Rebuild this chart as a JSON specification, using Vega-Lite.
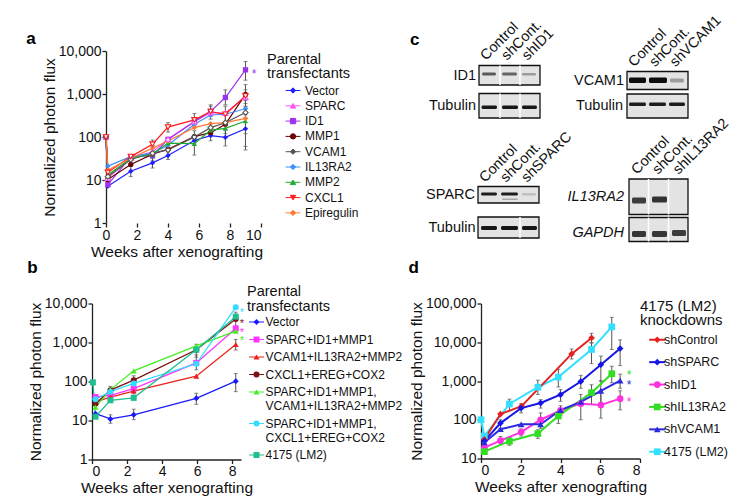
{
  "$schema": "https://vega.github.io/schema/vega-lite/v6.json",
  "background": "white",
  "padding": {"left": 26, "top": 12, "right": 0, "bottom": 0},
  "columns": 2,
  "align": "each",
  "spacing": {"row": -1.5, "column": 5},
  "resolve": {"scale": {"color": "independent", "shape": "independent", "stroke": "independent"}, "legend": {"color": "independent", "shape": "independent", "stroke": "independent"}},
  "datasets": {
    "a": [
      {"series": "Vector", "week": 0, "value": 100},
      {"series": "Vector", "week": 0.12, "value": 7.2},
      {"series": "Vector", "week": 1.6, "value": 16, "lo": 12, "hi": 21},
      {"series": "Vector", "week": 3.0, "value": 25, "lo": 19, "hi": 32},
      {"series": "Vector", "week": 4.0, "value": 37, "lo": 30, "hi": 45},
      {"series": "Vector", "week": 5.7, "value": 83},
      {"series": "Vector", "week": 6.75, "value": 108, "lo": 82, "hi": 130},
      {"series": "Vector", "week": 7.7, "value": 98, "lo": 62, "hi": 150},
      {"series": "Vector", "week": 9.0, "value": 155, "lo": 50, "hi": 330},
      {"series": "SPARC", "week": 0, "value": 100},
      {"series": "SPARC", "week": 0.12, "value": 11},
      {"series": "SPARC", "week": 1.6, "value": 33},
      {"series": "SPARC", "week": 3.0, "value": 45, "lo": 33, "hi": 62},
      {"series": "SPARC", "week": 4.0, "value": 90},
      {"series": "SPARC", "week": 5.7, "value": 230},
      {"series": "SPARC", "week": 6.75, "value": 370},
      {"series": "SPARC", "week": 7.7, "value": 360},
      {"series": "SPARC", "week": 9.0, "value": 850, "lo": 520, "hi": 1250},
      {"series": "ID1", "week": 0, "value": 100},
      {"series": "ID1", "week": 0.12, "value": 7.8},
      {"series": "ID1", "week": 1.6, "value": 35},
      {"series": "ID1", "week": 3.0, "value": 37},
      {"series": "ID1", "week": 4.0, "value": 88},
      {"series": "ID1", "week": 5.7, "value": 225},
      {"series": "ID1", "week": 6.75, "value": 395, "lo": 300, "hi": 560},
      {"series": "ID1", "week": 7.7, "value": 830, "lo": 560, "hi": 1250},
      {"series": "ID1", "week": 9.0, "value": 3650, "lo": 2100, "hi": 5700},
      {"series": "MMP1", "week": 0, "value": 100},
      {"series": "MMP1", "week": 0.12, "value": 10.3},
      {"series": "MMP1", "week": 1.6, "value": 23},
      {"series": "MMP1", "week": 3.0, "value": 40},
      {"series": "MMP1", "week": 4.0, "value": 52},
      {"series": "MMP1", "week": 5.7, "value": 102, "lo": 70, "hi": 140},
      {"series": "MMP1", "week": 6.75, "value": 126},
      {"series": "MMP1", "week": 7.7, "value": 198},
      {"series": "MMP1", "week": 9.0, "value": 980, "lo": 600, "hi": 1650},
      {"series": "VCAM1", "week": 0, "value": 100},
      {"series": "VCAM1", "week": 0.12, "value": 12},
      {"series": "VCAM1", "week": 1.6, "value": 30},
      {"series": "VCAM1", "week": 3.0, "value": 42, "lo": 28, "hi": 62},
      {"series": "VCAM1", "week": 4.0, "value": 50},
      {"series": "VCAM1", "week": 5.7, "value": 100},
      {"series": "VCAM1", "week": 6.75, "value": 165},
      {"series": "VCAM1", "week": 7.7, "value": 215},
      {"series": "VCAM1", "week": 9.0, "value": 370, "lo": 60, "hi": 1000},
      {"series": "IL13RA2", "week": 0, "value": 100},
      {"series": "IL13RA2", "week": 0.12, "value": 21},
      {"series": "IL13RA2", "week": 1.6, "value": 35},
      {"series": "IL13RA2", "week": 3.0, "value": 42},
      {"series": "IL13RA2", "week": 4.0, "value": 64},
      {"series": "IL13RA2", "week": 5.7, "value": 198},
      {"series": "IL13RA2", "week": 6.75, "value": 325},
      {"series": "IL13RA2", "week": 7.7, "value": 338, "lo": 230, "hi": 520},
      {"series": "IL13RA2", "week": 9.0, "value": 455, "lo": 280, "hi": 700},
      {"series": "MMP2", "week": 0, "value": 100},
      {"series": "MMP2", "week": 0.12, "value": 13},
      {"series": "MMP2", "week": 1.6, "value": 32},
      {"series": "MMP2", "week": 3.0, "value": 40},
      {"series": "MMP2", "week": 4.0, "value": 72},
      {"series": "MMP2", "week": 5.7, "value": 70, "lo": 38, "hi": 110},
      {"series": "MMP2", "week": 6.75, "value": 144},
      {"series": "MMP2", "week": 7.7, "value": 159},
      {"series": "MMP2", "week": 9.0, "value": 235, "lo": 120, "hi": 500},
      {"series": "CXCL1", "week": 0, "value": 100},
      {"series": "CXCL1", "week": 0.12, "value": 15},
      {"series": "CXCL1", "week": 1.6, "value": 35},
      {"series": "CXCL1", "week": 3.0, "value": 68, "lo": 45, "hi": 85},
      {"series": "CXCL1", "week": 4.0, "value": 170, "lo": 130, "hi": 215},
      {"series": "CXCL1", "week": 5.7, "value": 250, "lo": 180, "hi": 350},
      {"series": "CXCL1", "week": 6.75, "value": 390, "lo": 260, "hi": 520},
      {"series": "CXCL1", "week": 7.7, "value": 338},
      {"series": "CXCL1", "week": 9.0, "value": 900},
      {"series": "Epiregulin", "week": 0, "value": 100},
      {"series": "Epiregulin", "week": 0.12, "value": 17},
      {"series": "Epiregulin", "week": 1.6, "value": 32},
      {"series": "Epiregulin", "week": 3.0, "value": 55},
      {"series": "Epiregulin", "week": 4.0, "value": 81},
      {"series": "Epiregulin", "week": 5.7, "value": 165},
      {"series": "Epiregulin", "week": 6.75, "value": 204},
      {"series": "Epiregulin", "week": 7.7, "value": 215, "lo": 120, "hi": 330},
      {"series": "Epiregulin", "week": 9.0, "value": 270}
    ],
    "aStar": [
      {"series": "ID1", "week": 9.55, "value": 3650, "sig": "*"}
    ],
    "b": [
      {"series": "Vector", "week": 0.2, "value": 15},
      {"series": "Vector", "week": 1.05, "value": 11, "lo": 8.5, "hi": 14},
      {"series": "Vector", "week": 2.38, "value": 14, "lo": 10.5, "hi": 19.5},
      {"series": "Vector", "week": 5.95, "value": 37, "lo": 26, "hi": 50},
      {"series": "Vector", "week": 8.2, "value": 102, "lo": 55, "hi": 160},
      {"series": "SPARC+ID1+MMP1", "week": 0.2, "value": 40},
      {"series": "SPARC+ID1+MMP1", "week": 1.05, "value": 44},
      {"series": "SPARC+ID1+MMP1", "week": 2.38, "value": 66},
      {"series": "SPARC+ID1+MMP1", "week": 5.95, "value": 300, "lo": 200, "hi": 480},
      {"series": "SPARC+ID1+MMP1", "week": 8.2, "value": 2300},
      {"series": "VCAM1+IL13RA2+MMP2", "week": 0.2, "value": 30},
      {"series": "VCAM1+IL13RA2+MMP2", "week": 1.05, "value": 40},
      {"series": "VCAM1+IL13RA2+MMP2", "week": 2.38, "value": 57, "lo": 48, "hi": 70},
      {"series": "VCAM1+IL13RA2+MMP2", "week": 5.95, "value": 137},
      {"series": "VCAM1+IL13RA2+MMP2", "week": 8.2, "value": 890, "lo": 640, "hi": 1200},
      {"series": "CXCL1+EREG+COX2", "week": 0.2, "value": 27},
      {"series": "CXCL1+EREG+COX2", "week": 1.05, "value": 60, "lo": 45, "hi": 75},
      {"series": "CXCL1+EREG+COX2", "week": 2.38, "value": 108, "lo": 85, "hi": 140},
      {"series": "CXCL1+EREG+COX2", "week": 5.95, "value": 650},
      {"series": "CXCL1+EREG+COX2", "week": 8.2, "value": 4000, "lo": 2600, "hi": 6000},
      {"series": "SPARC+ID1+MMP1, VCAM1+IL13RA2+MMP2", "week": 0.2, "value": 22},
      {"series": "SPARC+ID1+MMP1, VCAM1+IL13RA2+MMP2", "week": 1.05, "value": 62},
      {"series": "SPARC+ID1+MMP1, VCAM1+IL13RA2+MMP2", "week": 2.38, "value": 188},
      {"series": "SPARC+ID1+MMP1, VCAM1+IL13RA2+MMP2", "week": 5.95, "value": 820},
      {"series": "SPARC+ID1+MMP1, VCAM1+IL13RA2+MMP2", "week": 8.2, "value": 1950},
      {"series": "SPARC+ID1+MMP1, CXCL1+EREG+COX2", "week": 0.2, "value": 35},
      {"series": "SPARC+ID1+MMP1, CXCL1+EREG+COX2", "week": 1.05, "value": 55},
      {"series": "SPARC+ID1+MMP1, CXCL1+EREG+COX2", "week": 2.38, "value": 89},
      {"series": "SPARC+ID1+MMP1, CXCL1+EREG+COX2", "week": 5.95, "value": 285},
      {"series": "SPARC+ID1+MMP1, CXCL1+EREG+COX2", "week": 8.2, "value": 8000},
      {"series": "4175 (LM2)", "week": 0.05, "value": 95},
      {"series": "4175 (LM2)", "week": 0.2, "value": 12.5},
      {"series": "4175 (LM2)", "week": 1.05, "value": 33},
      {"series": "4175 (LM2)", "week": 2.38, "value": 38},
      {"series": "4175 (LM2)", "week": 5.95, "value": 650, "lo": 420, "hi": 900},
      {"series": "4175 (LM2)", "week": 8.2, "value": 4600}
    ],
    "bStar": [
      {"series": "SPARC+ID1+MMP1, CXCL1+EREG+COX2", "week": 8.55, "value": 7400, "sig": "*"},
      {"series": "CXCL1+EREG+COX2", "week": 8.55, "value": 3700, "sig": "*"},
      {"series": "SPARC+ID1+MMP1", "week": 8.55, "value": 2200, "sig": "*"},
      {"series": "SPARC+ID1+MMP1, VCAM1+IL13RA2+MMP2", "week": 8.55, "value": 1400, "sig": "*"}
    ],
    "d": [
      {"series": "4175 (LM2)", "week": 0, "value": 100},
      {"series": "4175 (LM2)", "week": 0.17, "value": 38},
      {"series": "4175 (LM2)", "week": 1.43, "value": 255, "lo": 170, "hi": 340},
      {"series": "4175 (LM2)", "week": 2.86, "value": 690, "lo": 450, "hi": 1050},
      {"series": "4175 (LM2)", "week": 3.89, "value": 1260, "lo": 700, "hi": 2000},
      {"series": "4175 (LM2)", "week": 5.56, "value": 6500, "lo": 2800, "hi": 9500},
      {"series": "4175 (LM2)", "week": 6.58, "value": 25000, "lo": 6500, "hi": 44000},
      {"series": "shControl", "week": 0.17, "value": 31},
      {"series": "shControl", "week": 0.98, "value": 140},
      {"series": "shControl", "week": 2.04, "value": 225},
      {"series": "shControl", "week": 4.56, "value": 5000, "lo": 3700, "hi": 6700},
      {"series": "shControl", "week": 5.56, "value": 12900, "lo": 9800, "hi": 17000},
      {"series": "shSPARC", "week": 0.17, "value": 28},
      {"series": "shSPARC", "week": 0.98, "value": 82, "lo": 60, "hi": 100},
      {"series": "shSPARC", "week": 2.02, "value": 200, "lo": 150, "hi": 260},
      {"series": "shSPARC", "week": 3.0, "value": 270, "lo": 200, "hi": 330},
      {"series": "shSPARC", "week": 4.0, "value": 445, "lo": 300, "hi": 600},
      {"series": "shSPARC", "week": 5.02, "value": 970, "lo": 650, "hi": 1400},
      {"series": "shSPARC", "week": 6.03, "value": 2640, "lo": 1000, "hi": 4400},
      {"series": "shSPARC", "week": 7.0, "value": 6900, "lo": 2500, "hi": 11500},
      {"series": "shID1", "week": 0.17, "value": 19},
      {"series": "shID1", "week": 0.98, "value": 29, "lo": 24, "hi": 37},
      {"series": "shID1", "week": 2.02, "value": 48, "lo": 38, "hi": 58},
      {"series": "shID1", "week": 3.0, "value": 100, "lo": 60, "hi": 150},
      {"series": "shID1", "week": 4.0, "value": 175, "lo": 130, "hi": 230},
      {"series": "shID1", "week": 5.02, "value": 260, "lo": 100, "hi": 450},
      {"series": "shID1", "week": 6.03, "value": 240, "lo": 110, "hi": 560},
      {"series": "shID1", "week": 7.0, "value": 350, "lo": 180, "hi": 560},
      {"series": "shIL13RA2", "week": 0.17, "value": 15},
      {"series": "shIL13RA2", "week": 1.43, "value": 28, "lo": 22, "hi": 35},
      {"series": "shIL13RA2", "week": 2.86, "value": 44, "lo": 33, "hi": 55},
      {"series": "shIL13RA2", "week": 3.89, "value": 125, "lo": 80, "hi": 160},
      {"series": "shIL13RA2", "week": 5.56, "value": 500, "lo": 250, "hi": 800},
      {"series": "shIL13RA2", "week": 6.58, "value": 1540, "lo": 900, "hi": 2400},
      {"series": "shVCAM1", "week": 0.17, "value": 26},
      {"series": "shVCAM1", "week": 0.98, "value": 57},
      {"series": "shVCAM1", "week": 2.02, "value": 76},
      {"series": "shVCAM1", "week": 3.0, "value": 76},
      {"series": "shVCAM1", "week": 4.0, "value": 178},
      {"series": "shVCAM1", "week": 5.02, "value": 290},
      {"series": "shVCAM1", "week": 6.03, "value": 560, "lo": 280, "hi": 1000},
      {"series": "shVCAM1", "week": 7.0, "value": 1020, "lo": 650, "hi": 1500}
    ],
    "dStar": [
      {"series": "shIL13RA2", "week": 7.45, "value": 1780, "sig": "*"},
      {"series": "shVCAM1", "week": 7.45, "value": 1020, "sig": "*"},
      {"series": "shID1", "week": 7.45, "value": 370, "sig": "*"}
    ],
    "cBoxes": [
      {"probe": "ID1", "x1": 487, "x2": 548, "y1": 64.5, "y2": 84},
      {"probe": "Tubulin", "x1": 487, "x2": 548, "y1": 92.5, "y2": 117},
      {"probe": "VCAM1", "x1": 635, "x2": 696, "y1": 70.5, "y2": 88.5},
      {"probe": "Tubulin", "x1": 635, "x2": 696, "y1": 93, "y2": 117},
      {"probe": "SPARC", "x1": 486, "x2": 547, "y1": 185.5, "y2": 202},
      {"probe": "Tubulin", "x1": 486, "x2": 547, "y1": 216, "y2": 237},
      {"probe": "IL13RA2", "x1": 637, "x2": 696, "y1": 178, "y2": 213.5},
      {"probe": "GAPDH", "x1": 637, "x2": 696, "y1": 216.5, "y2": 240.5}
    ],
    "cBands": [
      {"x1": 490, "x2": 504, "y1": 71.5, "y2": 74.5, "level": 0.6},
      {"x1": 510, "x2": 525, "y1": 71.5, "y2": 74.5, "level": 0.55},
      {"x1": 530, "x2": 544, "y1": 72, "y2": 74.5, "level": 0.3},
      {"x1": 489.5, "x2": 505, "y1": 104.5, "y2": 108, "level": 0.95},
      {"x1": 510, "x2": 526, "y1": 104.5, "y2": 108, "level": 0.95},
      {"x1": 530, "x2": 545, "y1": 104.5, "y2": 108, "level": 0.95},
      {"x1": 637, "x2": 654, "y1": 76.5, "y2": 82, "level": 1},
      {"x1": 657, "x2": 675, "y1": 76.5, "y2": 82, "level": 1},
      {"x1": 678, "x2": 692, "y1": 77.5, "y2": 81.5, "level": 0.3},
      {"x1": 637, "x2": 654, "y1": 101.5, "y2": 105, "level": 0.92},
      {"x1": 657, "x2": 674, "y1": 101.5, "y2": 105, "level": 0.92},
      {"x1": 677, "x2": 693, "y1": 101.5, "y2": 105, "level": 0.92},
      {"x1": 489, "x2": 505, "y1": 191.5, "y2": 194.5, "level": 0.92},
      {"x1": 509, "x2": 526, "y1": 191.5, "y2": 194.5, "level": 0.92},
      {"x1": 530, "x2": 544, "y1": 192, "y2": 194.5, "level": 0.15},
      {"x1": 510, "x2": 526, "y1": 197.5, "y2": 199, "level": 0.25},
      {"x1": 489, "x2": 505, "y1": 225, "y2": 229, "level": 0.95},
      {"x1": 509, "x2": 526, "y1": 225, "y2": 229, "level": 0.95},
      {"x1": 530, "x2": 545, "y1": 225, "y2": 229, "level": 0.95},
      {"x1": 640, "x2": 654, "y1": 196.5, "y2": 202.5, "level": 0.75},
      {"x1": 660, "x2": 675, "y1": 195.5, "y2": 201.5, "level": 0.8},
      {"x1": 640, "x2": 654, "y1": 230, "y2": 236, "level": 0.78},
      {"x1": 660, "x2": 675, "y1": 230, "y2": 236, "level": 0.78},
      {"x1": 680, "x2": 694, "y1": 229, "y2": 235, "level": 0.75}
    ],
    "cSeps": [
      {"x": 508, "y1": 64.5, "y2": 84},
      {"x": 528, "y1": 64.5, "y2": 84},
      {"x": 508, "y1": 92.5, "y2": 117},
      {"x": 528, "y1": 92.5, "y2": 117},
      {"x": 528, "y1": 216, "y2": 237},
      {"x": 656.5, "y1": 178, "y2": 213.5},
      {"x": 676.5, "y1": 178, "y2": 213.5},
      {"x": 656.5, "y1": 216.5, "y2": 240.5},
      {"x": 676.5, "y1": 216.5, "y2": 240.5}
    ],
    "cRowLabels": [
      {"label": "ID1", "assay": "protein", "x": 484, "y": 74.5},
      {"label": "Tubulin", "assay": "protein", "x": 484, "y": 105},
      {"label": "VCAM1", "assay": "protein", "x": 632, "y": 79.5},
      {"label": "Tubulin", "assay": "protein", "x": 631, "y": 105},
      {"label": "SPARC", "assay": "protein", "x": 483, "y": 193.5},
      {"label": "Tubulin", "assay": "protein", "x": 483.5, "y": 226.5},
      {"label": "IL13RA2", "assay": "mRNA", "x": 632, "y": 196},
      {"label": "GAPDH", "assay": "mRNA", "x": 632, "y": 232}
    ],
    "cColLabels": [
      {"label": "Control", "x": 494, "y": 60},
      {"label": "shCont.", "x": 515, "y": 60},
      {"label": "shID1", "x": 535.5, "y": 60},
      {"label": "Control", "x": 642, "y": 66.5},
      {"label": "shCont.", "x": 663, "y": 66.5},
      {"label": "shVCAM1", "x": 683.5, "y": 66.5},
      {"label": "Control", "x": 493, "y": 182},
      {"label": "shCont.", "x": 514, "y": 182},
      {"label": "shSPARC", "x": 535, "y": 182},
      {"label": "Control", "x": 645, "y": 174},
      {"label": "shCont.", "x": 666, "y": 174},
      {"label": "shIL13RA2", "x": 686.5, "y": 174}
    ],
    "cLetter": [
      {"label": "c", "x": 418, "y": 44}
    ]
  },
  "concat": [
    {
      "width": 169,
      "height": 172,
      "title": {"text": "a", "frame": "bounds", "dx": -16, "offset": -4},
      "encoding": {
        "x": {"field": "week", "type": "quantitative", "title": "Weeks after xenografting", "scale": {"domain": [-0.903, 10], "nice": false, "zero": false}, "axis": {"values": [0, 2, 4, 6, 8, 10], "domain": false}},
        "y": {"field": "value", "type": "quantitative", "title": "Normalized photon flux", "scale": {"type": "log", "domain": [1, 10000], "nice": false}, "axis": {"values": [1, 10, 100, 1000, 10000], "format": ",", "offset": -14}}
      },
      "layer": [
        {
          "data": {"values": [{}]},
          "mark": {"type": "rule", "color": "#222", "strokeWidth": 1.3},
          "encoding": {
            "x": {"datum": 0, "type": "quantitative", "title": "Weeks after xenografting", "axis": {"values": [0, 2, 4, 6, 8, 10], "domain": false}},
            "x2": {"datum": 10},
            "y": {"datum": 1, "type": "quantitative", "title": "Normalized photon flux", "axis": {"values": [1, 10, 100, 1000, 10000], "format": ",", "offset": -14}}
          }
        },
        {
          "data": {"name": "a"},
          "transform": [{"filter": "isValid(datum.lo)"}],
          "mark": {"type": "errorbar", "color": "#555", "ticks": {"size": 4}},
          "encoding": {
            "y": {"field": "lo", "type": "quantitative", "title": "Normalized photon flux", "axis": {"values": [1, 10, 100, 1000, 10000], "format": ",", "offset": -14}},
            "y2": {"field": "hi"}
          }
        },
        {
          "data": {"name": "a"},
          "mark": {"type": "line", "strokeWidth": 1.2},
          "encoding": {
            "stroke": {
              "field": "series", "type": "nominal",
              "scale": {"domain": ["Epiregulin", "CXCL1", "MMP2", "IL13RA2", "VCAM1", "MMP1", "ID1", "SPARC", "Vector"], "range": ["#ff7a33", "#ff1a1a", "#22aa33", "#3d8eff", "#555555", "#6b0000", "#9933ee", "#ff55ff", "#1f1fff"]},
              "legend": {
                "values": ["Vector", "SPARC", "ID1", "MMP1", "VCAM1", "IL13RA2", "MMP2", "CXCL1", "Epiregulin"],
                "title": ["Parental", "transfectants"],
                "orient": "none", "legendX": 175, "legendY": 2,
                "rowPadding": 3.3, "titlePadding": 3, "titleLineHeight": 14,
                "labelOffset": 6, "symbolOffset": 20, "symbolSize": 28, "symbolStrokeWidth": 1,
                "symbolType": "M-2.8,0H2.8", "titleOpacity": 0, "labelOpacity": 0
              }
            }
          }
        },
        {
          "data": {"name": "a"},
          "transform": [{"filter": "indexof(['SPARC','VCAM1','CXCL1'], datum.series) < 0"}],
          "mark": {"type": "point", "filled": true, "size": 28, "opacity": 1},
          "encoding": {
            "color": {
              "field": "series", "type": "nominal",
              "scale": {"domain": ["Vector", "SPARC", "ID1", "MMP1", "VCAM1", "IL13RA2", "MMP2", "CXCL1", "Epiregulin"], "range": ["#1f1fff", "#ff55ff", "#9933ee", "#6b0000", "#555555", "#3d8eff", "#22aa33", "#ff1a1a", "#ff7a33"]},
              "legend": {
                "title": ["Parental", "transfectants"],
                "orient": "none", "legendX": 175, "legendY": 2,
                "rowPadding": 3.3, "titlePadding": 3, "titleLineHeight": 14,
                "labelOffset": 6, "symbolOffset": 20, "symbolSize": 28, "symbolStrokeWidth": 1
              }
            },
            "shape": {
              "field": "series", "type": "nominal",
              "scale": {"domain": ["Vector", "SPARC", "ID1", "MMP1", "VCAM1", "IL13RA2", "MMP2", "CXCL1", "Epiregulin"], "range": ["diamond", "triangle-up", "square", "circle", "diamond", "diamond", "triangle-up", "triangle-down", "diamond"]},
              "legend": {
                "title": ["Parental", "transfectants"],
                "orient": "none", "legendX": 175, "legendY": 2,
                "rowPadding": 3.3, "titlePadding": 3, "titleLineHeight": 14,
                "labelOffset": 6, "symbolOffset": 20, "symbolSize": 28, "symbolStrokeWidth": 1
              }
            }
          }
        },
        {
          "data": {"name": "a"},
          "transform": [{"filter": "indexof(['SPARC','VCAM1','CXCL1'], datum.series) >= 0"}],
          "mark": {"type": "point", "filled": false, "fill": "white", "size": 28, "strokeWidth": 1.1, "opacity": 1},
          "encoding": {
            "color": {"field": "series", "type": "nominal"},
            "shape": {"field": "series", "type": "nominal"}
          }
        },
        {
          "data": {"name": "aStar"},
          "mark": {"type": "text", "fontSize": 12, "dy": 4},
          "encoding": {
            "text": {"field": "sig"},
            "color": {"field": "series", "type": "nominal"}
          }
        }
      ]
    },
    {
      "width": 256,
      "height": 195,
      "layer": [
        {
          "data": {"name": "cBoxes"},
          "mark": {"type": "rect", "fill": "#e3e3e3", "stroke": "#111", "strokeWidth": 1.3},
          "encoding": {
            "x": {"field": "x1", "type": "quantitative", "scale": {"domain": [489, 745], "nice": false, "zero": false}, "axis": null},
            "x2": {"field": "x2"},
            "y": {"field": "y1", "type": "quantitative", "scale": {"domain": [50, 245], "reverse": true, "nice": false, "zero": false}, "axis": null},
            "y2": {"field": "y2"}
          }
        },
        {
          "data": {"name": "cBands"},
          "mark": {"type": "rect", "cornerRadius": 1.5},
          "encoding": {
            "x": {"field": "x1", "type": "quantitative", "axis": null},
            "x2": {"field": "x2"},
            "y": {"field": "y1", "type": "quantitative", "axis": null},
            "y2": {"field": "y2"},
            "color": {"field": "level", "type": "quantitative", "scale": {"domain": [0, 1], "range": ["#e3e3e3", "#0d0d0d"]}, "legend": null}
          }
        },
        {
          "data": {"name": "cSeps"},
          "mark": {"type": "rule", "color": "white", "strokeWidth": 1.5},
          "encoding": {
            "x": {"field": "x", "type": "quantitative", "axis": null},
            "y": {"field": "y1", "type": "quantitative", "axis": null},
            "y2": {"field": "y2"}
          }
        },
        {
          "data": {"name": "cRowLabels"},
          "transform": [{"filter": "datum.assay == 'protein'"}],
          "mark": {"type": "text", "align": "right", "baseline": "middle", "fontSize": 14.5, "color": "#111"},
          "encoding": {
            "x": {"field": "x", "type": "quantitative", "axis": null},
            "y": {"field": "y", "type": "quantitative", "axis": null},
            "text": {"field": "label"}
          }
        },
        {
          "data": {"name": "cRowLabels"},
          "transform": [{"filter": "datum.assay == 'mRNA'"}],
          "mark": {"type": "text", "align": "right", "baseline": "middle", "fontSize": 14.5, "fontStyle": "italic", "color": "#111"},
          "encoding": {
            "x": {"field": "x", "type": "quantitative", "axis": null},
            "y": {"field": "y", "type": "quantitative", "axis": null},
            "text": {"field": "label"}
          }
        },
        {
          "data": {"name": "cColLabels"},
          "mark": {"type": "text", "align": "left", "baseline": "alphabetic", "angle": 315, "fontSize": 14.5, "color": "#111"},
          "encoding": {
            "x": {"field": "x", "type": "quantitative", "axis": null},
            "y": {"field": "y", "type": "quantitative", "axis": null},
            "text": {"field": "label"}
          }
        },
        {
          "data": {"name": "cLetter"},
          "mark": {"type": "text", "align": "left", "baseline": "alphabetic", "fontSize": 17, "fontWeight": "bold", "color": "#000"},
          "encoding": {
            "x": {"field": "x", "type": "quantitative", "axis": null},
            "y": {"field": "y", "type": "quantitative", "axis": null},
            "text": {"field": "label"}
          }
        }
      ]
    },
    {
      "width": 149,
      "height": 156,
      "title": {"text": "b", "frame": "bounds", "dx": -1, "offset": 8},
      "encoding": {
        "x": {"field": "week", "type": "quantitative", "title": "Weeks after xenografting", "scale": {"domain": [0, 8.5], "nice": false, "zero": false}, "axis": {"values": [0, 2, 4, 6, 8]}},
        "y": {"field": "value", "type": "quantitative", "title": "Normalized photon flux", "scale": {"type": "log", "domain": [1, 10000], "nice": false}, "axis": {"values": [1, 10, 100, 1000, 10000], "format": ","}}
      },
      "layer": [
        {
          "data": {"name": "b"},
          "transform": [{"filter": "isValid(datum.lo)"}],
          "mark": {"type": "errorbar", "color": "#555", "ticks": {"size": 4}},
          "encoding": {
            "y": {"field": "lo", "type": "quantitative", "title": "Normalized photon flux", "axis": {"values": [1, 10, 100, 1000, 10000], "format": ","}},
            "y2": {"field": "hi"}
          }
        },
        {
          "data": {"name": "b"},
          "mark": {"type": "line", "strokeWidth": 1.3},
          "encoding": {
            "stroke": {
              "field": "series", "type": "nominal",
              "scale": {"domain": ["4175 (LM2)", "SPARC+ID1+MMP1, CXCL1+EREG+COX2", "SPARC+ID1+MMP1, VCAM1+IL13RA2+MMP2", "CXCL1+EREG+COX2", "VCAM1+IL13RA2+MMP2", "SPARC+ID1+MMP1", "Vector"], "range": ["#1fbf8f", "#33ddff", "#44ee22", "#7a1414", "#e8231c", "#ff33ff", "#1a1aff"]},
              "legend": {
                "values": ["Vector", "SPARC+ID1+MMP1", "VCAM1+IL13RA2+MMP2", "CXCL1+EREG+COX2", "SPARC+ID1+MMP1, VCAM1+IL13RA2+MMP2", "SPARC+ID1+MMP1, CXCL1+EREG+COX2", "4175 (LM2)"],
                "title": ["Parental", "transfectants"],
                "orient": "none", "legendX": 155, "legendY": -19,
                "rowPadding": 5.5, "titlePadding": 2, "titleLineHeight": 15,
                "labelOffset": 3, "symbolOffset": 3.5, "symbolSize": 36, "symbolStrokeWidth": 1,
                "labelExpr": "split(replace(datum.label, ', ', ',|'), '|')",
                "symbolType": "M-2.5,0H2.5", "titleOpacity": 0, "labelOpacity": 0
              }
            }
          }
        },
        {
          "data": {"name": "b"},
          "mark": {"type": "point", "filled": true, "size": 36, "opacity": 1},
          "encoding": {
            "color": {
              "field": "series", "type": "nominal",
              "scale": {"domain": ["Vector", "SPARC+ID1+MMP1", "VCAM1+IL13RA2+MMP2", "CXCL1+EREG+COX2", "SPARC+ID1+MMP1, VCAM1+IL13RA2+MMP2", "SPARC+ID1+MMP1, CXCL1+EREG+COX2", "4175 (LM2)"], "range": ["#1a1aff", "#ff33ff", "#e8231c", "#7a1414", "#44ee22", "#33ddff", "#1fbf8f"]},
              "legend": {
                "title": ["Parental", "transfectants"],
                "orient": "none", "legendX": 155, "legendY": -19,
                "rowPadding": 5.5, "titlePadding": 2, "titleLineHeight": 15,
                "labelOffset": 3, "symbolOffset": 3.5, "symbolSize": 36, "symbolStrokeWidth": 1,
                "labelExpr": "split(replace(datum.label, ', ', ',|'), '|')"
              }
            },
            "shape": {
              "field": "series", "type": "nominal",
              "scale": {"domain": ["Vector", "SPARC+ID1+MMP1", "VCAM1+IL13RA2+MMP2", "CXCL1+EREG+COX2", "SPARC+ID1+MMP1, VCAM1+IL13RA2+MMP2", "SPARC+ID1+MMP1, CXCL1+EREG+COX2", "4175 (LM2)"], "range": ["diamond", "square", "triangle-up", "circle", "triangle-up", "circle", "square"]},
              "legend": {
                "title": ["Parental", "transfectants"],
                "orient": "none", "legendX": 155, "legendY": -19,
                "rowPadding": 5.5, "titlePadding": 2, "titleLineHeight": 15,
                "labelOffset": 3, "symbolOffset": 3.5, "symbolSize": 36, "symbolStrokeWidth": 1,
                "labelExpr": "split(replace(datum.label, ', ', ',|'), '|')"
              }
            }
          }
        },
        {
          "data": {"name": "bStar"},
          "mark": {"type": "text", "fontSize": 11, "dy": 4},
          "encoding": {
            "text": {"field": "sig"},
            "color": {"field": "series", "type": "nominal"}
          }
        }
      ]
    },
    {
      "width": 159,
      "height": 155,
      "title": {"text": "d", "frame": "bounds", "dx": -1, "offset": 20},
      "encoding": {
        "x": {"field": "week", "type": "quantitative", "title": "Weeks after xenografting", "scale": {"domain": [0, 8], "nice": false, "zero": false}, "axis": {"values": [0, 2, 4, 6, 8]}},
        "y": {"field": "value", "type": "quantitative", "title": "Normalized photon flux", "scale": {"type": "log", "domain": [10, 100000], "nice": false}, "axis": {"values": [10, 100, 1000, 10000, 100000], "format": ","}}
      },
      "layer": [
        {
          "data": {"name": "d"},
          "transform": [{"filter": "isValid(datum.lo)"}],
          "mark": {"type": "errorbar", "color": "#555", "ticks": {"size": 4}},
          "encoding": {
            "y": {"field": "lo", "type": "quantitative", "title": "Normalized photon flux", "axis": {"values": [10, 100, 1000, 10000, 100000], "format": ","}},
            "y2": {"field": "hi"}
          }
        },
        {
          "data": {"name": "d"},
          "mark": {"type": "line", "strokeWidth": 2},
          "encoding": {
            "stroke": {
              "field": "series", "type": "nominal",
              "scale": {"domain": ["4175 (LM2)", "shVCAM1", "shIL13RA2", "shID1", "shSPARC", "shControl"], "range": ["#33e0ff", "#2a2ae0", "#33dd22", "#ff33dd", "#1515e6", "#e32222"]},
              "legend": {
                "values": ["shControl", "shSPARC", "shID1", "shIL13RA2", "shVCAM1", "4175 (LM2)"],
                "title": ["4175 (LM2)", "knockdowns"],
                "orient": "none", "legendX": 159, "legendY": -5,
                "rowPadding": 9.4, "titlePadding": 6, "titleLineHeight": 14, "titleFontSize": 15, "labelFontSize": 12.5,
                "labelOffset": 0.5, "symbolOffset": 11, "symbolSize": 45, "symbolStrokeWidth": 2,
                "symbolType": "M-2.4,0H2.4", "titleOpacity": 0, "labelOpacity": 0
              }
            }
          }
        },
        {
          "data": {"name": "d"},
          "mark": {"type": "point", "filled": true, "size": 45, "opacity": 1},
          "encoding": {
            "color": {
              "field": "series", "type": "nominal",
              "scale": {"domain": ["shControl", "shSPARC", "shID1", "shIL13RA2", "shVCAM1", "4175 (LM2)"], "range": ["#e32222", "#1515e6", "#ff33dd", "#33dd22", "#2a2ae0", "#33e0ff"]},
              "legend": {
                "title": ["4175 (LM2)", "knockdowns"],
                "orient": "none", "legendX": 159, "legendY": -5,
                "rowPadding": 9.4, "titlePadding": 6, "titleLineHeight": 14, "titleFontSize": 15, "labelFontSize": 12.5,
                "labelOffset": 0.5, "symbolOffset": 11, "symbolSize": 45, "symbolStrokeWidth": 2
              }
            },
            "shape": {
              "field": "series", "type": "nominal",
              "scale": {"domain": ["shControl", "shSPARC", "shID1", "shIL13RA2", "shVCAM1", "4175 (LM2)"], "range": ["diamond", "diamond", "circle", "square", "triangle-up", "square"]},
              "legend": {
                "title": ["4175 (LM2)", "knockdowns"],
                "orient": "none", "legendX": 159, "legendY": -5,
                "rowPadding": 9.4, "titlePadding": 6, "titleLineHeight": 14, "titleFontSize": 15, "labelFontSize": 12.5,
                "labelOffset": 0.5, "symbolOffset": 11, "symbolSize": 45, "symbolStrokeWidth": 2
              }
            }
          }
        },
        {
          "data": {"name": "dStar"},
          "mark": {"type": "text", "fontSize": 12, "dy": 4},
          "encoding": {
            "text": {"field": "sig"},
            "color": {"field": "series", "type": "nominal"}
          }
        }
      ]
    }
  ],
  "config": {
    "font": "Liberation Sans",
    "view": {"stroke": null},
    "axis": {"grid": false, "labelFontSize": 14, "titleFontSize": 15.5, "titleFontWeight": "normal", "labelColor": "#111", "titleColor": "#111", "domainColor": "#222", "tickColor": "#222", "domainWidth": 1.3, "tickWidth": 1.3, "tickSize": 4, "labelPadding": 1, "titlePadding": 2},
    "axisY": {"titlePadding": 1},
    "legend": {"titleFontWeight": "normal", "titleFontSize": 14.5, "labelFontSize": 12, "padding": 0, "titleColor": "#111", "labelColor": "#111"},
    "title": {"fontSize": 17, "fontWeight": "bold", "anchor": "start", "color": "#000"}
  }
}
